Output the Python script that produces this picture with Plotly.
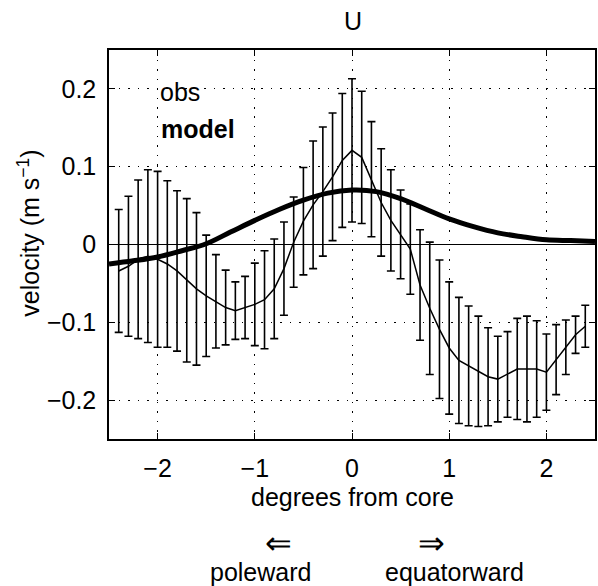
import plotly.graph_objects as go

# Observations: positions (degrees from core), mean velocity, error half-widths
obs_x = [-2.4, -2.3, -2.2, -2.1, -2.0, -1.9, -1.8, -1.7, -1.6, -1.5,
         -1.4, -1.3, -1.2, -1.1, -1.0, -0.9, -0.8, -0.7, -0.6, -0.5,
         -0.4, -0.3, -0.2, -0.1, 0.0, 0.1, 0.2, 0.3, 0.4, 0.5,
         0.6, 0.7, 0.8, 0.9, 1.0, 1.1, 1.2, 1.3, 1.4, 1.5,
         1.6, 1.7, 1.8, 1.9, 2.0, 2.1, 2.2, 2.3, 2.4]
obs_u = [-0.034, -0.028, -0.019, -0.015, -0.019, -0.025, -0.034, -0.046, -0.057, -0.066,
         -0.073, -0.081, -0.085, -0.081, -0.077, -0.071, -0.057, -0.031, 0.003, 0.030,
         0.051, 0.068, 0.087, 0.108, 0.121, 0.112, 0.084, 0.054, 0.031, 0.013,
         -0.006, -0.052, -0.082, -0.109, -0.133, -0.149, -0.156, -0.163, -0.170, -0.173,
         -0.167, -0.160, -0.160, -0.160, -0.164, -0.148, -0.132, -0.116, -0.105]
obs_err = [0.079, 0.090, 0.102, 0.111, 0.113, 0.107, 0.103, 0.105, 0.098, 0.078,
           0.060, 0.048, 0.037, 0.040, 0.053, 0.063, 0.064, 0.060, 0.058, 0.069,
           0.082, 0.083, 0.082, 0.086, 0.092, 0.085, 0.074, 0.069, 0.065, 0.057,
           0.058, 0.071, 0.085, 0.089, 0.085, 0.081, 0.077, 0.071, 0.063, 0.055,
           0.055, 0.065, 0.068, 0.062, 0.049, 0.045, 0.035, 0.024, 0.027]

# Model curve
model_x = [-2.5, -2.25, -2.0, -1.75, -1.5, -1.25, -1.0, -0.75, -0.5, -0.25, 0.0,
           0.25, 0.5, 0.75, 1.0, 1.25, 1.5, 1.75, 2.0, 2.25, 2.5]
model_u = [-0.025, -0.021, -0.016, -0.008, 0.001, 0.016, 0.031, 0.045, 0.057, 0.066, 0.070,
           0.068, 0.059, 0.046, 0.033, 0.023, 0.015, 0.010, 0.006, 0.005, 0.004]

x_ticks = [-2, -1, 0, 1, 2]
y_ticks = [-0.2, -0.1, 0, 0.1, 0.2]
y_tick_labels = ["\u22120.2", "\u22120.1", "0", "0.1", "0.2"]
x_tick_labels = ["\u22122", "\u22121", "0", "1", "2"]

FONT = "Liberation Sans, Arial, Helvetica, sans-serif"
FS = 25

fig = go.Figure()
fig.add_trace(go.Scatter(
    x=obs_x, y=obs_u, mode="lines",
    line=dict(color="black", width=1.5),
    error_y=dict(type="data", array=obs_err, visible=True,
                 color="black", thickness=1.6, width=4),
    showlegend=False, hoverinfo="skip"))
fig.add_trace(go.Scatter(
    x=model_x, y=model_u, mode="lines",
    line=dict(color="black", width=5, shape="spline"),
    showlegend=False, hoverinfo="skip"))

axis_common = dict(
    showline=True, linecolor="black", linewidth=1.5, mirror="ticks",
    ticks="inside", ticklen=6, tickwidth=1.2, tickcolor="black",
    showgrid=True, gridcolor="black", gridwidth=1, griddash="1.5px,8px",
    tickfont=dict(family=FONT, size=FS, color="black"),
)

fig.update_xaxes(range=[-2.5, 2.5], tickvals=x_ticks, ticktext=x_tick_labels,
                 zeroline=False, ticklabelstandoff=6, **axis_common)
fig.update_yaxes(range=[-0.25, 0.25], tickvals=y_ticks, ticktext=y_tick_labels,
                 zeroline=True, zerolinecolor="black", zerolinewidth=1.3,
                 ticklabelstandoff=6, **axis_common)

def ann(text, x, y, xanchor="center", size=FS, angle=0):
    fig.add_annotation(text=text, x=x, y=y, xref="paper", yref="paper",
                       xanchor=xanchor, yanchor="middle", showarrow=False,
                       textangle=angle,
                       font=dict(family=FONT, size=size, color="black"))

ann("U", 0.502, 1.075)
ann("degrees from core", 0.502, -0.150)
ann("velocity (m s<sup>\u22121</sup>)", -0.165, 0.53, angle=-90)
ann("\u21d0", 0.348, -0.267, size=32)
ann("\u21d2", 0.664, -0.267, size=32)
ann("poleward", 0.311, -0.342)
ann("equatorward", 0.711, -0.342)
ann("obs", 0.100, 0.892, xanchor="left")
ann("<b>model</b>", 0.102, 0.797, xanchor="left")

fig.update_layout(
    width=598, height=586,
    margin=dict(l=109, r=1, t=50, b=147),
    paper_bgcolor="white", plot_bgcolor="white",
    font=dict(family=FONT, size=FS, color="black"),
)

fig.write_html("out.html", config={"displayModeBar": False},
               post_script="document.body.style.margin='0';document.body.style.overflow='hidden';")
